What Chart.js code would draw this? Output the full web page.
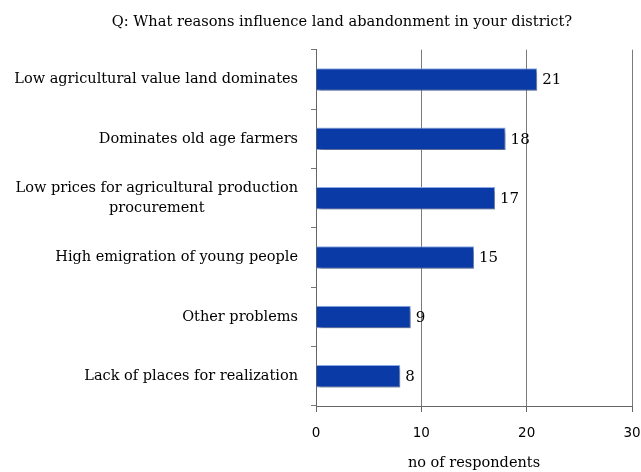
<!DOCTYPE html>
<html>
<head>
<meta charset="utf-8">
<script src="https://cdn.jsdelivr.net/npm/chart.js@4.4.1/dist/chart.umd.min.js"></script>
<style>
  html, body { margin: 0; padding: 0; background: #ffffff; }
  #wrap { width: 641px; height: 472px; position: relative; }
</style>
</head>
<body>
<div id="wrap"><canvas id="c" width="641" height="472"></canvas></div>
<script>
const titleText = "Q: What reasons influence land abandonment in your district?";
const categories = [
  ["Low agricultural value land dominates"],
  ["Dominates old age farmers"],
  ["Low prices for agricultural production", "procurement"],
  ["High emigration of young people"],
  ["Other problems"],
  ["Lack of places for realization"]
];
const respondents = [21, 18, 17, 15, 9, 8];
const xTicks = [0, 10, 20, 30];
const xAxisTitle = "no of respondents";

const serif = "'DejaVu Serif', 'Liberation Serif', serif";

const barShadow = {
  id: 'barShadow',
  beforeDatasetsDraw(chart) {
    const ctx = chart.ctx;
    ctx.save();
    ctx.shadowColor = 'rgba(0,0,0,0.35)';
    ctx.shadowBlur = 3;
    ctx.shadowOffsetX = 2;
    ctx.shadowOffsetY = 3;
  },
  afterDatasetsDraw(chart) {
    chart.ctx.restore();
    const ctx = chart.ctx;
    const meta = chart.getDatasetMeta(0);
    ctx.save();
    ctx.font = "15px " + serif;
    ctx.fillStyle = '#000';
    ctx.textAlign = 'left';
    ctx.textBaseline = 'middle';
    meta.data.forEach((bar, i) => {
      ctx.fillText(String(respondents[i]), bar.x + 5, bar.y + 1);
    });
    ctx.restore();
  }
};

const catLabels = {
  id: 'catLabels',
  afterDraw(chart) {
    const ctx = chart.ctx;
    const y = chart.scales.y;
    ctx.save();
    ctx.font = "14.5px " + serif;
    ctx.fillStyle = '#000';
    ctx.textAlign = 'center';
    ctx.textBaseline = 'middle';
    const right = y.right - 18;
    const lh = 20.6;
    categories.forEach((lines, i) => {
      const cy = y.getPixelForValue(i);
      const w = Math.max(...lines.map(l => ctx.measureText(l).width));
      const cx = right - w / 2;
      const start = cy - (lines.length - 1) * lh / 2;
      lines.forEach((l, k) => ctx.fillText(l, cx, start + k * lh));
    });
    ctx.restore();
  }
};

new Chart(document.getElementById('c'), {
  type: 'bar',
  data: {
    labels: categories.map(c => c.join(' ')),
    datasets: [{
      data: respondents,
      backgroundColor: '#0a3aa6',
      borderColor: '#8fa9e6',
      borderWidth: 1,
      categoryPercentage: 1,
      barPercentage: 0.38
    }]
  },
  options: {
    indexAxis: 'y',
    responsive: false,
    animation: false,
    devicePixelRatio: 1,
    layout: { padding: { left: 52, right: 9, top: 0, bottom: 0 } },
    plugins: {
      legend: { display: false },
      tooltip: { enabled: false },
      title: {
        display: true,
        text: titleText,
        color: '#000',
        font: { family: serif, size: 14.6, weight: 'normal', lineHeight: 1.2 },
        padding: { top: 13, bottom: 19.2 }
      }
    },
    scales: {
      x: {
        min: 0, max: 30,
        afterBuildTicks(scale) { scale.ticks = xTicks.map(v => ({ value: v })); },
        afterFit(scale) { scale.height = 66; scale.paddingRight = 0; scale.paddingLeft = 0; },
        grid: { color: '#7a7a7a', lineWidth: 1, tickLength: 6, drawTicks: true, tickColor: '#666' },
        border: { color: '#666', width: 1 },
        ticks: { color: '#000', font: { family: "'DejaVu Sans', sans-serif", size: 13.5 }, padding: 13 },
        title: {
          display: true, text: xAxisTitle, color: '#000',
          font: { family: serif, size: 14.5 },
          padding: { top: 11, bottom: 0 }
        }
      },
      y: {
        grid: { drawOnChartArea: false, drawTicks: true, tickLength: 5, tickColor: '#777', offset: true },
        border: { color: '#666', width: 1 },
        ticks: { display: false },
        afterFit(scale) { scale.width = 264; }
      }
    }
  },
  plugins: [barShadow, catLabels]
});
</script>
</body>
</html>
